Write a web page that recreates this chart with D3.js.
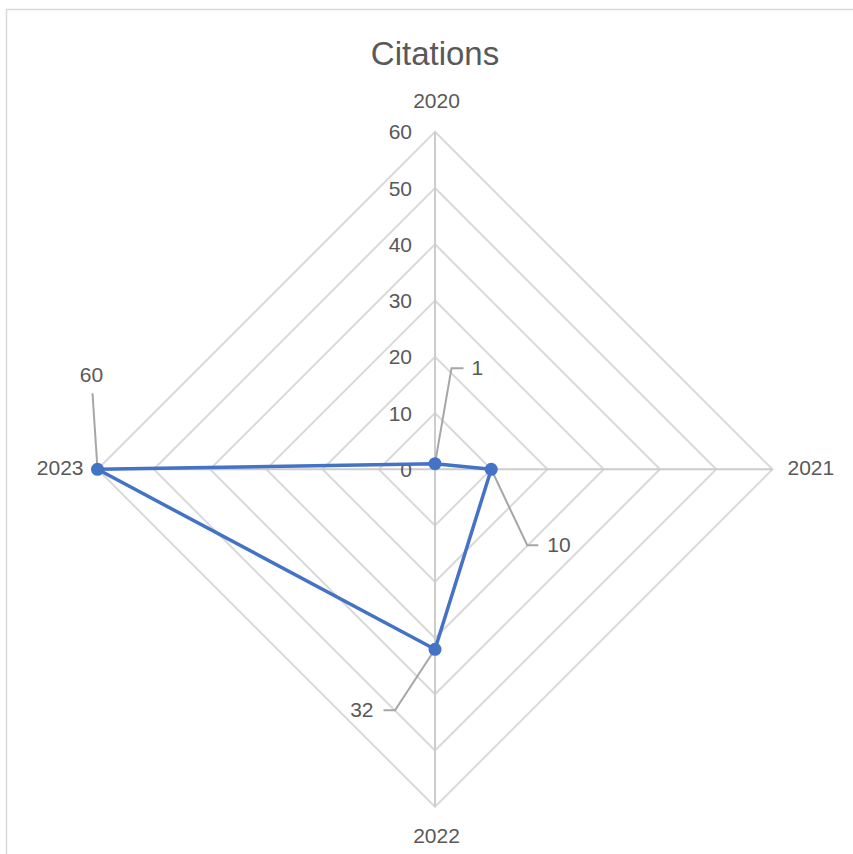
<!DOCTYPE html>
<html>
<head>
<meta charset="utf-8">
<script src="https://cdn.jsdelivr.net/npm/d3@7"></script>
<style>
  html, body { margin: 0; padding: 0; background: #ffffff; }
  svg { display: block; }
  text { font-family: "Liberation Sans", Arial, sans-serif; fill: #595959; }
</style>
</head>
<body>
<svg id="chart" width="853" height="854"></svg>
<script>
// Chart data
const categories = ["2020", "2021", "2022", "2023"];
const citations = [1, 10, 32, 60];
const tickValues = [0, 10, 20, 30, 40, 50, 60];
const chartTitle = "Citations";

// Layout
const width = 853, height = 854;
const cx = 435, cy = 469.3, R = 337.5;

// Leader-line routing for each data label: elbow offset from point, then horizontal run
const labelLayout = [
  { ex: 16.5, ey: -95.5, hx: 12, anchor: "start", tx: 8 },
  { ex: 36, ey: 76, hx: 11, anchor: "start", tx: 9 },
  { ex: -40, ey: 61, hx: -11.5, anchor: "end", tx: -10 },
  { ex: -5, ey: -76, hx: 0, anchor: "middle", tx: -1, above: true }
];

const svg = d3.select("#chart");

// Outer chart-area frame
svg.append("rect")
  .attr("x", 6.5).attr("y", 9.5)
  .attr("width", 900).attr("height", 900)
  .attr("fill", "none")
  .attr("stroke", "#d9d9d9")
  .attr("stroke-width", 1.5);

const r = d3.scaleLinear().domain([0, 60]).range([0, R]);
const angle = d3.scalePoint().domain(categories).range([0, 2 * Math.PI * (categories.length - 1) / categories.length]);

function pt(cat, v) {
  const a = angle(cat);
  return [cx + r(v) * Math.sin(a), cy - r(v) * Math.cos(a)];
}

// Gridline polygons
const grid = svg.append("g");
tickValues.filter(v => v > 0).forEach(v => {
  const pts = categories.map(c => pt(c, v));
  grid.append("path")
    .attr("d", d3.line()(pts) + "Z")
    .attr("fill", "none")
    .attr("stroke", "#d9d9d9")
    .attr("stroke-width", 2);
});

// Spokes
categories.forEach(c => {
  const [x, y] = pt(c, 60);
  grid.append("line")
    .attr("x1", cx).attr("y1", cy)
    .attr("x2", x).attr("y2", y)
    .attr("stroke", "#cccccc")
    .attr("stroke-width", 2);
});

// Radial axis tick labels
svg.append("g").selectAll("text")
  .data(tickValues)
  .join("text")
  .attr("x", cx - 23)
  .attr("y", d => cy - r(d) + 2)
  .attr("text-anchor", "end")
  .attr("dominant-baseline", "middle")
  .attr("font-size", 21)
  .text(d => d);

// Category labels
const catPos = [
  { dx: 1.5, dy: -29.5, anchor: "middle" },
  { dx: 15, dy: 0, anchor: "start" },
  { dx: 1.5, dy: 31, anchor: "middle" },
  { dx: -14, dy: 0, anchor: "end" }
];
svg.append("g").selectAll("text")
  .data(categories)
  .join("text")
  .attr("x", (d, i) => pt(d, 60)[0] + catPos[i].dx)
  .attr("y", (d, i) => pt(d, 60)[1] + catPos[i].dy)
  .attr("text-anchor", (d, i) => catPos[i].anchor)
  .attr("dominant-baseline", "middle")
  .attr("font-size", 21)
  .text(d => d);

// Title
svg.append("text")
  .attr("x", cx)
  .attr("y", 65)
  .attr("text-anchor", "middle")
  .attr("font-size", 33)
  .text(chartTitle);

// Series polygon
const seriesPts = categories.map((c, i) => pt(c, citations[i]));

// Leader lines for data labels (drawn beneath the series)
const leaders = svg.append("g");
seriesPts.forEach((p, i) => {
  const L = labelLayout[i];
  const e = [p[0] + L.ex, p[1] + L.ey];
  const h = [e[0] + L.hx, e[1]];
  leaders.append("path")
    .attr("d", d3.line()([p, e, h]))
    .attr("fill", "none")
    .attr("stroke", "#a6a6a6")
    .attr("stroke-width", 2);
});

svg.append("path")
  .attr("d", d3.line()(seriesPts) + "Z")
  .attr("fill", "none")
  .attr("stroke", "#4472c4")
  .attr("stroke-width", 3.5)
  .attr("stroke-linejoin", "round");

svg.append("g").selectAll("circle")
  .data(seriesPts)
  .join("circle")
  .attr("cx", d => d[0])
  .attr("cy", d => d[1])
  .attr("r", 6.5)
  .attr("fill", "#4472c4");

// Data labels
svg.append("g").selectAll("text")
  .data(citations)
  .join("text")
  .attr("x", (d, i) => seriesPts[i][0] + labelLayout[i].ex + labelLayout[i].hx + labelLayout[i].tx)
  .attr("y", (d, i) => seriesPts[i][1] + labelLayout[i].ey + (labelLayout[i].above ? -17 : 1))
  .attr("text-anchor", (d, i) => labelLayout[i].anchor)
  .attr("dominant-baseline", "middle")
  .attr("font-size", 21)
  .text(d => d);
</script>
</body>
</html>
